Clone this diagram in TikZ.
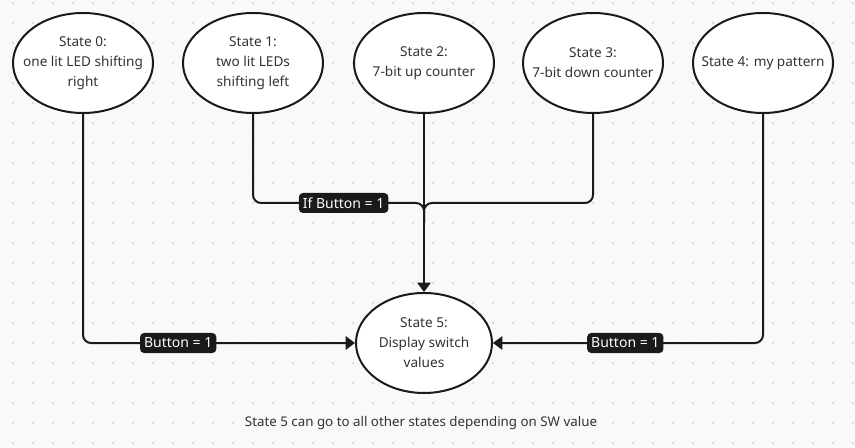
\documentclass[tikz,border=0pt]{standalone}
\usepackage{fontspec}
\setmainfont{Noto Sans}
\usetikzlibrary{shapes.geometric,arrows.meta}
\definecolor{bgcol}{RGB}{249,249,251}
\definecolor{dotcol}{RGB}{218,218,224}
\definecolor{ink}{RGB}{26,26,26}
\definecolor{txtcol}{RGB}{51,51,51}
\begin{document}
\begin{tikzpicture}[x=0.75pt,y=-0.75pt]
\tikzset{
  state/.style={ellipse,draw=ink,line width=1.5pt,fill=white,minimum width=105pt,minimum height=75pt,inner sep=0pt,
    label={[align=center,text=txtcol,font=\fontsize{10.2}{15}\selectfont]center:#1}},
  guard/.style={fill=ink,text=white,rounded corners=3pt,inner xsep=3pt,inner ysep=0pt,minimum height=15pt,font=\fontsize{10.5}{12}\selectfont},
  flow/.style={draw=ink,line width=1.5pt,rounded corners=6pt,-{Triangle[width=10pt,length=7pt]}},
  mergeline/.style={draw=ink,line width=1.5pt,rounded corners=6pt}
}
% background
\fill [bgcol] (0,0) rectangle (855,448);
\foreach \x in {13,33,...,853}
  \foreach \y in {3,23,...,443}
    \fill [dotcol] (\x,\y) circle (1.1pt);
% states
\node [state={State 0:\\one lit LED shifting\\right}] (s0) at (83,63) {};
\node [state={State 1:\\two lit LEDs\\shifting left}] (s1) at (253,63) {};
\node [state={State 2:\\7-bit up counter}] (s2) at (424,63) {};
\node [state={State 3:\\7-bit down counter}] (s3) at (593,63) {};
\node [state={State 4: my pattern}] (s4) at (763,63) {};
\node [state={State 5:\\Display switch\\values},minimum width=102pt] (s5) at (424,343) {};
\coordinate (mid) at (424,203);
\coordinate (merge) at (424,223);
% transitions
\draw [mergeline] (s1.south) -- (s1.south |- mid) -- node [guard,pos=0.53] {If Button = 1} (mid) -- (merge);
\draw [mergeline] (s3.south) -- (s3.south |- mid) -- (mid) -- (merge);
\draw [flow] (s2.south) -- (s5.north);
\draw [flow] (s0.south) -- (s0.south |- s5.west) -- node [guard,pos=0.35] {Button = 1} (s5.west);
\draw [flow] (s4.south) -- (s4.south |- s5.east) -- node [guard,pos=0.51] {Button = 1} (s5.east);
\node [text=txtcol,font=\fontsize{10}{15}\selectfont] (note) at (421,423) {State 5 can go to all other states depending on SW value};
\end{tikzpicture}
\end{document}
